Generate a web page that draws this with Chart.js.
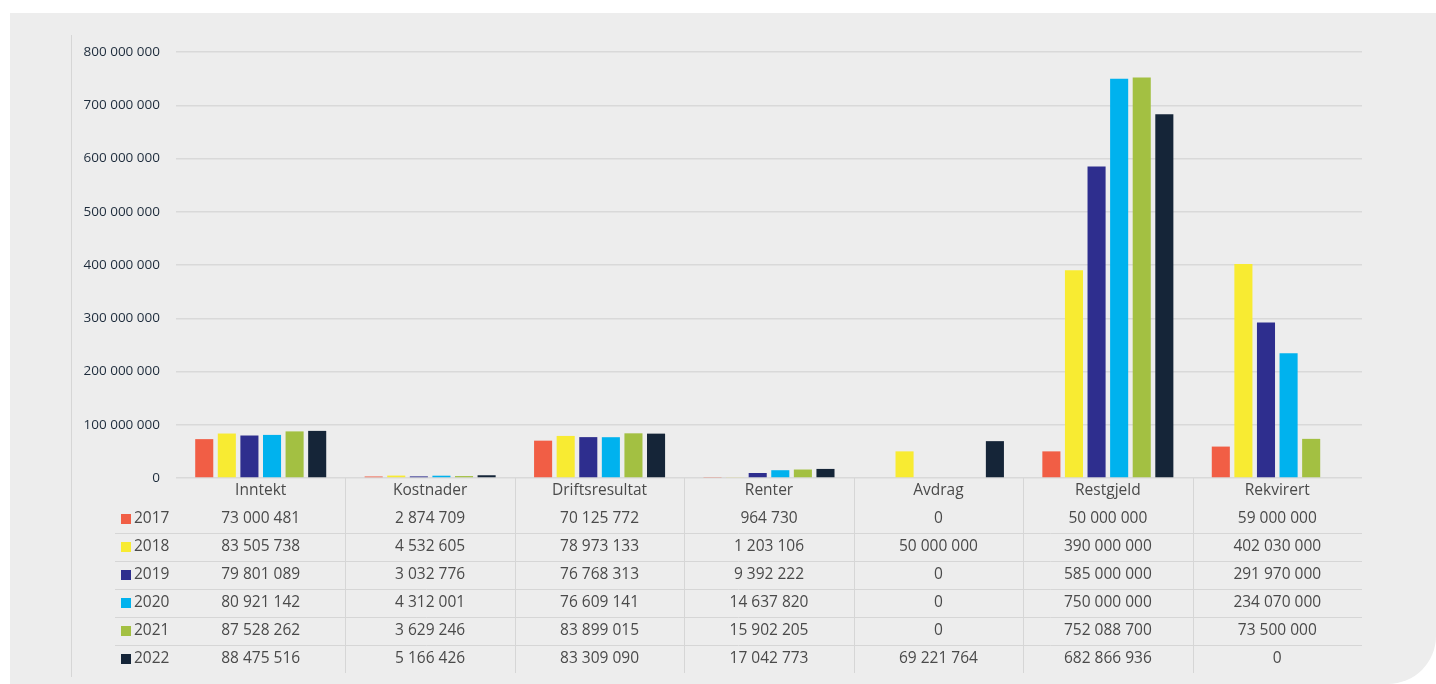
<!DOCTYPE html>
<html>
<head>
<meta charset="utf-8">
<script src="https://cdn.jsdelivr.net/npm/chart.js"></script>
<style>
  html, body { margin: 0; padding: 0; background: #fff; }
  #wrap { position: relative; width: 1436px; height: 684px; overflow: hidden; }
  #panel {
    position: absolute; left: 10px; top: 13px; width: 1426px; height: 671px;
    background: #ededed; border-bottom-right-radius: 48px;
  }
  #vline { position: absolute; left: 71px; top: 35px; width: 1px; height: 642px; background: #d6d6d6; }
  canvas { position: absolute; left: 0; top: 0; }
</style>
</head>
<body>
<div id="wrap">
  <div id="panel"></div>
  <div id="vline"></div>
  <canvas id="chart" width="1436" height="684"></canvas>
</div>
<script>
// ==== Data ====
const categories = ["Inntekt", "Kostnader", "Driftsresultat", "Renter", "Avdrag", "Restgjeld", "Rekvirert"];
const years = ["2017", "2018", "2019", "2020", "2021", "2022"];
const yearColors = ["#f15e45", "#f8eb32", "#2e2e8e", "#00b2ee", "#a3c042", "#152538"];

const v2017 = [73000481, 2874709, 70125772, 964730, 0, 50000000, 59000000];
const v2018 = [83505738, 4532605, 78973133, 1203106, 50000000, 390000000, 402030000];
const v2019 = [79801089, 3032776, 76768313, 9392222, 0, 585000000, 291970000];
const v2020 = [80921142, 4312001, 76609141, 14637820, 0, 750000000, 234070000];
const v2021 = [87528262, 3629246, 83899015, 15902205, 0, 752088700, 73500000];
const v2022 = [88475516, 5166426, 83309090, 17042773, 69221764, 682866936, 0];
const seriesValues = [v2017, v2018, v2019, v2020, v2021, v2022];

const yTicks = [0, 100000000, 200000000, 300000000, 400000000, 500000000, 600000000, 700000000, 800000000];

const FONT = "'Open Sans', 'Noto Sans', sans-serif";

function fmt(n) {
  return String(n).replace(/\B(?=(\d{3})+(?!\d))/g, " ");
}

// ==== Data table under the bars ====
const tablePlugin = {
  id: "dataTable",
  afterDraw(chart) {
    const c = chart.ctx;
    const x = chart.scales.x;
    const area = chart.chartArea;
    const step = x.getPixelForValue(1) - x.getPixelForValue(0);
    const top = area.bottom;
    const headerY = top + 13;
    const rowH = 28;
    const firstRowY = top + 41;

    c.save();
    // vertical separators between categories
    c.strokeStyle = "#d6d6d6";
    c.lineWidth = 1;
    for (let i = 1; i < categories.length; i++) {
      const bx = Math.round(x.getPixelForValue(i) - step / 2) + 0.5;
      c.beginPath();
      c.moveTo(bx, top);
      c.lineTo(bx, top + 195);
      c.stroke();
    }
    // horizontal separators between rows
    for (let r = 0; r < years.length - 1; r++) {
      const ly = Math.round(firstRowY + r * rowH + rowH / 2) + 0.5;
      c.beginPath();
      c.moveTo(115, ly);
      c.lineTo(area.right, ly);
      c.stroke();
    }

    c.font = "15.5px " + FONT;
    c.textBaseline = "middle";
    c.textAlign = "center";
    c.fillStyle = "#4a4a4a";
    categories.forEach((cat, i) => {
      c.fillText(cat, x.getPixelForValue(i), headerY);
    });

    years.forEach((yr, r) => {
      const ry = firstRowY + r * rowH;
      c.fillStyle = yearColors[r];
      c.fillRect(121, ry - 5, 10, 10);
      c.fillStyle = "#4a4a4a";
      c.textAlign = "left";
      c.fillText(yr, 134, ry);
      c.textAlign = "center";
      seriesValues[r].forEach((v, i) => {
        c.fillText(fmt(v), x.getPixelForValue(i), ry);
      });
    });
    c.restore();
  }
};

// ==== Chart ====
const ctx = document.getElementById("chart").getContext("2d");
new Chart(ctx, {
  type: "bar",
  data: {
    labels: categories,
    datasets: years.map((yr, i) => ({
      label: yr,
      data: seriesValues[i],
      backgroundColor: yearColors[i],
      borderWidth: 0,
      categoryPercentage: 0.8,
      barPercentage: 0.8
    }))
  },
  options: {
    responsive: false,
    animation: false,
    devicePixelRatio: 1,
    layout: { padding: { left: 0, top: 52, right: 74, bottom: 206 } },
    plugins: { legend: { display: false }, tooltip: { enabled: false } },
    scales: {
      x: { display: false },
      y: {
        min: 0,
        max: 800000000,
        afterFit(scale) { scale.width = 176; },
        afterBuildTicks(scale) { scale.ticks = yTicks.map(v => ({ value: v })); },
        border: { display: false },
        grid: { color: "#d9d9d9", lineWidth: 1.5, drawTicks: false },
        ticks: {
          padding: 16,
          color: "#1e2c3c",
          font: { family: FONT, size: 13.5 },
          callback: v => fmt(v)
        }
      }
    }
  },
  plugins: [tablePlugin]
});
</script>
</body>
</html>
